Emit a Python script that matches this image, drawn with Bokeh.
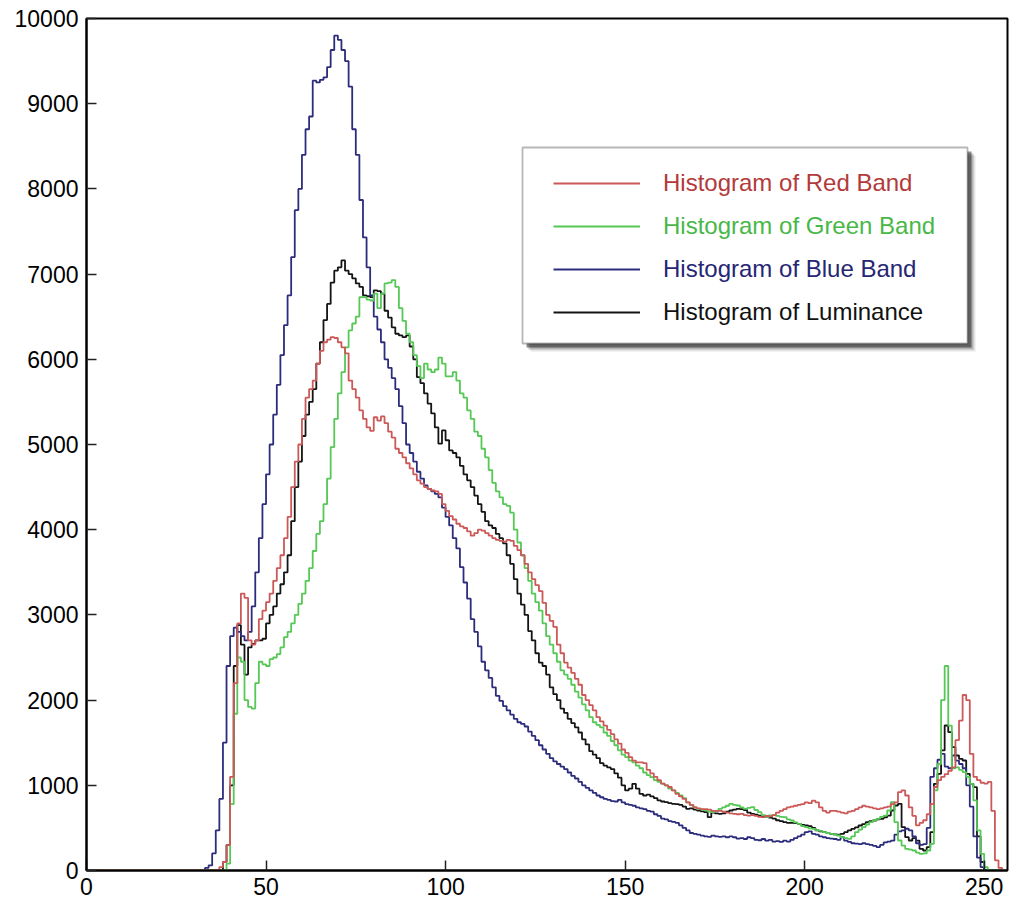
from bokeh.plotting import figure
from bokeh.models import Range1d, FixedTicker, Legend, LegendItem, BoxAnnotation
from bokeh.embed import file_html
from bokeh.resources import INLINE

# ---------------- data (counts per intensity level 0..255) ----------------
red_band = [0]*37 + [
    40, 100, 300, 1100, 2200, 2900, 3250, 3200, 2700, 2650, 2700, 2950, 3050,
    3150, 3250, 3400, 3550, 3700, 3900, 4150, 4500, 4800, 5000, 5300, 5550, 5650,
    5750, 5950, 6100, 6200, 6230, 6260, 6250, 6200, 6140, 6070, 5750, 5650, 5550,
    5400, 5300, 5200, 5160, 5320, 5280, 5330, 5250, 5150, 5080, 4950, 4900, 4850,
    4780, 4720, 4650, 4580, 4540, 4500, 4480, 4460, 4450, 4420, 4300, 4220, 4160,
    4120, 4070, 4040, 4020, 3980, 3930, 3960, 4000, 3990, 3960, 3930, 3900, 3880,
    3870, 3860, 3880, 3870, 3810, 3760, 3700, 3600, 3500, 3420, 3350, 3280, 3140,
    3000, 2930, 2860, 2650, 2550, 2440, 2380, 2320, 2250, 2180, 2060, 2000, 1940,
    1880, 1800, 1750, 1700, 1650, 1600, 1540, 1490, 1420, 1380, 1330, 1290, 1270,
    1270, 1260, 1180, 1140, 1100, 1060, 1020, 1000, 980, 940, 900, 870, 840, 800,
    770, 740, 730, 720, 720, 715, 700, 700, 700, 690, 680, 670, 665, 660, 665, 650,
    645, 650, 640, 630, 626, 640, 635, 650, 680, 700, 720, 740, 750, 760, 770, 780,
    800, 790, 820, 800, 740, 700, 680, 700, 700, 690, 680, 670, 690, 700, 720, 740,
    760, 750, 740, 730, 720, 730, 740, 750, 780, 800, 920, 940, 880, 740, 640, 530,
    560, 590, 660, 780, 980, 1060, 1100, 1130, 1170, 1210, 1530, 1760, 2060, 2000,
    1370, 1100, 1060, 1030, 1020, 1040, 700, 120, 30, 0]

green_band = [0]*39 + [
    80, 780, 1840, 2500, 2450, 2000, 1920, 1900, 2200, 2450, 2420, 2400, 2480,
    2500, 2540, 2620, 2740, 2800, 2900, 3000, 3130, 3250, 3400, 3550, 3750, 3950,
    4100, 4300, 4600, 4970, 5300, 5600, 5850, 6140, 6340, 6420, 6500, 6730, 6730,
    6700, 6690, 6770, 6600, 6770, 6890, 6900, 6930, 6850, 6600, 6450, 6300, 6200,
    6050, 5920, 5780, 5950, 5880, 5850, 5880, 6020, 5950, 5800, 5800, 5850, 5750,
    5600, 5550, 5400, 5300, 5150, 5100, 4950, 4850, 4700, 4550, 4450, 4380, 4300,
    4280, 4200, 4000, 3850, 3700, 3550, 3400, 3250, 3150, 3050, 2900, 2750, 2650,
    2550, 2450, 2350, 2300, 2250, 2180, 2100, 2030, 1950, 1880, 1800, 1740, 1710,
    1680, 1620, 1580, 1520, 1470, 1410, 1360, 1330, 1290, 1270, 1230, 1200, 1150,
    1120, 1095, 1060, 1040, 1020, 1000, 960, 940, 910, 880, 850, 800, 770, 740, 720,
    715, 705, 690, 685, 700, 724, 740, 760, 783, 770, 763, 740, 724, 735, 743, 710,
    685, 650, 626, 646, 650, 640, 630, 626, 600, 587, 565, 548, 520, 509, 495, 489,
    475, 465, 450, 440, 430, 420, 411, 391, 380, 372, 400, 450, 480, 509, 540, 567,
    590, 607, 630, 645, 704, 802, 567, 352, 293, 254, 245, 235, 210, 196, 200, 235,
    313, 940, 1250, 2000, 2400, 1700, 1200, 1210, 1180, 1154, 1100, 1017, 822, 470,
    196, 39, 0, 0, 0, 0, 0]

blue_band = [0]*33 + [
    30, 60, 200, 470, 840, 1500, 2400, 2750, 2850, 2800, 2750, 2700, 2800, 3100,
    3500, 3900, 4300, 4650, 5000, 5350, 5700, 6050, 6400, 6750, 7200, 7750, 8000,
    8400, 8700, 8850, 9270, 9250, 9280, 9310, 9430, 9630, 9800, 9750, 9630, 9500,
    9200, 8700, 8400, 7870, 7430, 7080, 6750, 6500, 6350, 6200, 6000, 5900, 5780,
    5650, 5450, 5250, 5000, 4900, 4800, 4680, 4600, 4520, 4480, 4450, 4420, 4380,
    4260, 4150, 4050, 3900, 3780, 3560, 3380, 3190, 2950, 2800, 2630, 2450, 2350,
    2260, 2150, 2050, 1990, 1930, 1880, 1830, 1780, 1740, 1720, 1690, 1630, 1580,
    1530, 1470, 1420, 1370, 1320, 1280, 1250, 1220, 1190, 1150, 1110, 1080, 1040,
    1000, 970, 940, 910, 880, 860, 840, 830, 815, 810, 830, 800, 780, 770, 760, 740,
    730, 720, 700, 690, 660, 640, 610, 600, 580, 570, 560, 530, 500, 470, 440, 430,
    420, 410, 400, 395, 410, 400, 395, 400, 390, 400, 390, 375, 380, 370, 390, 380,
    360, 355, 370, 350, 360, 340, 345, 335, 350, 340, 360, 380, 400, 420, 450, 460,
    430, 420, 400, 390, 380, 375, 370, 360, 390, 350, 335, 320, 315, 310, 320, 310,
    300, 290, 275, 300, 330, 340, 350, 420, 460, 470, 490, 470, 400, 320, 300, 310,
    500, 1100, 1200, 1300, 1370, 1220, 1200, 1350, 1290, 1250, 1200, 1000, 750, 400,
    150, 40, 0, 0, 0, 0, 0, 0]

luminance = [0]*38 + [
    100, 300, 1000, 2400, 2880, 2650, 2300, 2620, 2660, 2700, 2700, 2720, 2900,
    3000, 3100, 3250, 3360, 3500, 3700, 4100, 4500, 4800, 5100, 5350, 5500, 5650,
    5950, 6200, 6460, 6650, 6900, 7040, 7080, 7160, 7040, 7000, 6950, 6890, 6850,
    6750, 6740, 6730, 6810, 6800, 6770, 6570, 6490, 6375, 6300, 6280, 6260, 6280,
    6150, 6000, 5790, 5720, 5600, 5480, 5365, 5200, 5010, 5165, 5050, 4930, 4900,
    4850, 4750, 4650, 4580, 4500, 4400, 4300, 4210, 4100, 4050, 4020, 3950, 3900,
    3840, 3700, 3600, 3420, 3250, 3120, 3000, 2810, 2700, 2550, 2440, 2400, 2300,
    2150, 2070, 2000, 1900, 1850, 1780, 1730, 1680, 1620, 1540, 1480, 1400, 1360,
    1320, 1260, 1230, 1210, 1190, 1140, 1090, 1000, 940, 960, 1017, 960, 900, 880,
    890, 870, 850, 822, 810, 802, 790, 783, 780, 770, 750, 724, 730, 715, 704, 695,
    685, 626, 680, 670, 665, 670, 690, 704, 715, 724, 720, 710, 680, 665, 655, 645,
    630, 626, 620, 610, 590, 580, 567, 560, 560, 555, 548, 535, 528, 520, 500, 470,
    460, 450, 440, 430, 425, 420, 430, 450, 470, 489, 505, 528, 545, 567, 580, 587,
    600, 607, 625, 645, 704, 763, 783, 509, 391, 352, 380, 350, 254, 235, 274, 450,
    1017, 1135, 1409, 1702, 1624, 1448, 1350, 1311, 1291, 1135, 1017, 978, 400, 100,
    0, 0, 0, 0, 0, 0]

series_names = ["Histogram of Red Band", "Histogram of Green Band",
                "Histogram of Blue Band", "Histogram of Luminance"]
x_ticks = [0, 50, 100, 150, 200, 250]
y_ticks = [0, 1000, 2000, 3000, 4000, 5000, 6000, 7000, 8000, 9000, 10000]

# ---------------- styles ----------------
LINE_COLORS = {"red": "#cc5858", "green": "#55c855", "blue": "#2c2c7c", "lum": "#141414"}
TEXT_COLORS = {"red": "#b33a3a", "green": "#48b848", "blue": "#262674", "lum": "#111111"}
FONT = "Liberation Sans"

X_MAX = 256.5
Y_MAX = 10000
LEFT, RIGHT, TOP, BOTTOM = 86, 1007, 18, 870  # frame in pixels

p = figure(width=1017, height=905, output_backend="svg", toolbar_location=None,
           x_range=Range1d(0, X_MAX), y_range=Range1d(0, Y_MAX),
           min_border_left=LEFT, min_border_right=1017 - RIGHT,
           min_border_top=TOP, min_border_bottom=905 - BOTTOM)
p.background_fill_color = "white"
p.border_fill_color = "white"
p.outline_line_color = "black"
p.outline_line_width = 2
p.xgrid.visible = False
p.ygrid.visible = False

for ax in (p.xaxis[0], p.yaxis[0]):
    ax.axis_line_width = 2
    ax.axis_line_color = "black"
    ax.major_tick_in = 10
    ax.major_tick_out = 0
    ax.major_tick_line_width = 1.5
    ax.major_tick_line_color = "#222222"
    ax.minor_tick_line_color = None
    ax.major_label_text_font = FONT
    ax.major_label_text_font_size = "23px"
    ax.major_label_text_color = "black"
p.xaxis[0].ticker = FixedTicker(ticks=x_ticks)
p.yaxis[0].ticker = FixedTicker(ticks=y_ticks)
p.xaxis[0].major_label_standoff = 7
p.yaxis[0].major_label_standoff = 8


def steps(vals, color):
    xs = list(range(len(vals) + 1))
    ys = list(vals) + [vals[-1]]
    return p.step(xs, ys, mode="after", line_color=color, line_width=1.8)


r_lum = steps(luminance, LINE_COLORS["lum"])
r_blue = steps(blue_band, LINE_COLORS["blue"])
r_green = steps(green_band, LINE_COLORS["green"])
r_red = steps(red_band, LINE_COLORS["red"])


# ---------------- legend box with drop shadow ----------------
def dx(px):
    return (px - LEFT) / (RIGHT - LEFT) * X_MAX


def dy(py):
    return (BOTTOM - py) / (BOTTOM - TOP) * Y_MAX


BOX = (522, 147, 967, 343)  # left, top, right, bottom in pixels
for off, alpha in ((8, 0.10), (6, 0.22), (4, 0.45)):
    p.add_layout(BoxAnnotation(left=dx(BOX[0] + off), right=dx(BOX[2] + off),
                               top=dy(BOX[1] + off), bottom=dy(BOX[3] + off),
                               fill_color="black", fill_alpha=alpha,
                               line_color=None, level="annotation"))
p.add_layout(BoxAnnotation(left=dx(BOX[0]), right=dx(BOX[2]),
                           top=dy(BOX[1]), bottom=dy(BOX[3]),
                           fill_color="white", fill_alpha=1.0,
                           line_color="#111111", line_width=1.8, level="annotation"))

ROW_H = 30
row_centers = [183, 226, 269, 312]
renderers = [r_red, r_green, r_blue, r_lum]
keys = ["red", "green", "blue", "lum"]
for name, rend, key, c in zip(series_names, renderers, keys, row_centers):
    lg = Legend(items=[LegendItem(label=name, renderers=[rend])],
                location=(553 - LEFT, BOTTOM - c - ROW_H // 2),
                orientation="vertical", padding=0, margin=0, spacing=0,
                glyph_width=87, glyph_height=ROW_H, label_height=ROW_H,
                label_standoff=23, border_line_alpha=0, background_fill_alpha=0,
                label_text_font=FONT, label_text_font_size="24px",
                label_text_color=TEXT_COLORS[key])
    p.add_layout(lg)

open("out.html", "w").write(file_html(p, INLINE))
